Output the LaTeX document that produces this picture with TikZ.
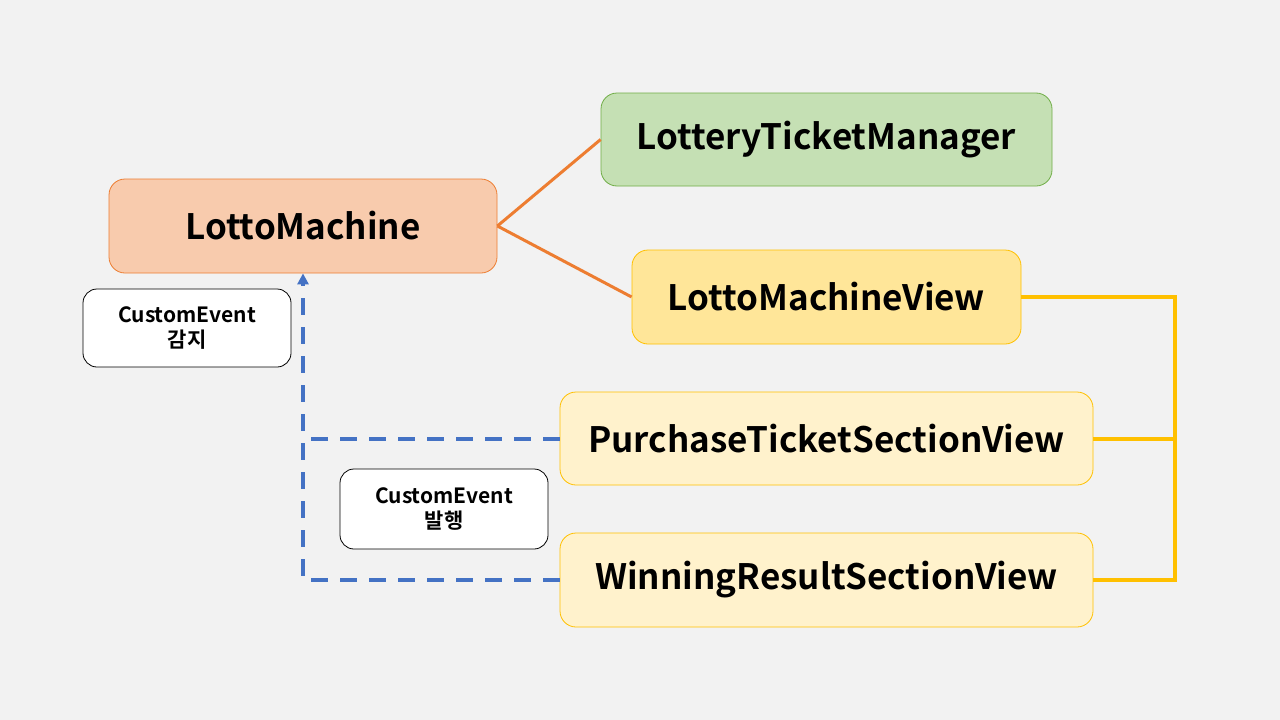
\documentclass[tikz,border=0pt]{standalone}
\usepackage{fontspec}
\setmainfont{Noto Sans CJK KR}[BoldFont={* Bold}]
\usetikzlibrary{arrows.meta}
\definecolor{bg}{HTML}{F2F2F2}
\definecolor{orfill}{HTML}{F8CBAD}
\definecolor{ordraw}{HTML}{ED7D31}
\definecolor{grfill}{HTML}{C5E0B4}
\definecolor{grdraw}{HTML}{70AD47}
\definecolor{yefill}{HTML}{FFE699}
\definecolor{yedraw}{HTML}{FFC000}
\definecolor{ltfill}{HTML}{FFF2CC}
\definecolor{bldraw}{HTML}{4472C4}
\tikzset{
  box/.style={rounded corners=16pt, line width=0.8pt, inner sep=0pt, font=\fontsize{35}{40}\selectfont\bfseries},
  note/.style={rounded corners=14pt, draw=black, fill=white, line width=0.8pt, inner sep=0pt, align=center, font=\fontsize{21}{24}\selectfont\bfseries},
  orline/.style={draw=ordraw, line width=3pt},
  yeline/.style={draw=yedraw, line width=4pt},
  blline/.style={draw=bldraw, line width=4pt, dash pattern=on 17pt off 12pt},
}
\begin{document}
\begin{tikzpicture}[x=1pt,y=-1pt]
\fill[bg] (0,0) rectangle (1280,720);
\useasboundingbox (0,0) rectangle (1280,720);
\node[box, fill=orfill, draw=ordraw, minimum width=388pt, minimum height=94pt] (lm) at (303,226) {\raisebox{-1pt}{LottoMachine}};
\node[box, fill=grfill, draw=grdraw, minimum width=451pt, minimum height=93pt] (ltm) at (826.5,139.5) {\raisebox{-1pt}{LotteryTicketManager}};
\node[box, fill=yefill, draw=yedraw, minimum width=389pt, minimum height=94pt] (lmv) at (826.5,297) {\raisebox{-1pt}{LottoMachineView}};
\node[box, fill=ltfill, draw=yedraw, minimum width=533pt, minimum height=93pt] (ptsv) at (826.5,438.5) {\raisebox{-1pt}{PurchaseTicketSectionView}};
\node[box, fill=ltfill, draw=yedraw, minimum width=533pt, minimum height=94pt] (wrsv) at (826.5,580) {\raisebox{-2pt}{WinningResultSectionView}};
\node[note, minimum width=208pt, minimum height=78pt] (n1) at (187,328) {CustomEvent\\[1pt]감지};
\node[note, minimum width=208pt, minimum height=80pt] (n2) at (444,509) {CustomEvent\\[1pt]발행};
\coordinate (bus) at (1175,0);
\coordinate (dl) at (303,0);
\draw[orline] (lm.east) -- (ltm.west);
\draw[orline] (lm.east) -- (lmv.west);
\draw[yeline] (lmv.east) -- (lmv.east -| bus) -- (wrsv.east -| bus) -- (wrsv.east);
\draw[yeline] (ptsv.east) -- (ptsv.east -| bus);
\draw[blline] (ptsv.west) -- (ptsv.west -| dl);
\draw[blline, -{Triangle[length=11pt,width=11pt]}] (wrsv.west) -- (wrsv.west -| dl) -- (lm.south);
\end{tikzpicture}
\end{document}
